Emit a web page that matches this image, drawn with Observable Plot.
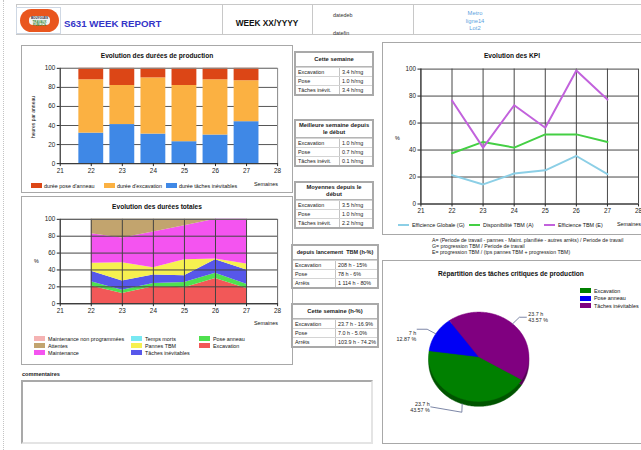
<!DOCTYPE html>
<html><head><meta charset="utf-8">
<script src="https://cdn.jsdelivr.net/npm/d3@7"></script>
<script src="https://cdn.jsdelivr.net/npm/@observablehq/plot@0.6"></script>
<style>
body{margin:0;background:#fff;font-family:"Liberation Sans",Arial,sans-serif;color:#111;}
#page{position:relative;width:641px;height:450px;overflow:hidden;background:#fff;}
.abs{position:absolute;}
.panel{position:absolute;border:1px solid #a8a8a8;box-sizing:border-box;overflow:hidden;background:#fff;}
.ptitle{position:absolute;left:0;right:0;text-align:center;font-weight:bold;font-size:6.6px;line-height:8px;}
.tbl{position:absolute;border:2px solid #a9a9a9;box-sizing:border-box;background:#fff;font-size:5.4px;color:#222;}
.th{display:flex;align-items:center;justify-content:center;text-align:center;font-weight:bold;font-size:5.8px;line-height:6.6px;border-bottom:1px solid #b5b5b5;padding:0 2px;box-sizing:border-box;}
.tr{display:flex;height:9px;line-height:8px;border-top:1px solid #d4d4d4;box-sizing:border-box;}
.c1{border-right:1px solid #c4c4c4;padding-left:2px;box-sizing:border-box;white-space:nowrap;}
.c2{padding-left:2px;white-space:nowrap;}
.lg{position:absolute;font-size:5.4px;line-height:6px;white-space:nowrap;}
.sw{position:absolute;width:11px;height:5px;}
.small{font-size:5.4px;}
svg{overflow:hidden;}
</style>
</head><body>
<div id="page"></div>
<script>
// ---------- DATA ----------
const weeks = [22, 23, 24, 25, 26, 27];
const xTicks = [21, 22, 23, 24, 25, 26, 27, 28];
const yTicks = [0, 20, 40, 60, 80, 100];

// Evolution des durées de production (heures par anneau, stacked)
const prodNames = ["durée tâches inévitables", "durée d'excavation", "durée pose d'anneau"];
const dureeTaches = [32, 41, 31, 23, 30, 44];
const dureeExcavation = [56, 41, 59, 59, 58, 43];
const dureePose = [12, 18, 10, 18, 12, 13];
const prodColors = ["#3f88e6", "#fbb142", "#dc4616"];
const prodLegendOrder = ["durée pose d'anneau", "durée d'excavation", "durée tâches inévitables"];

// Evolution des durées totales (%)
const areaNames = ["Excavation", "Pose anneau", "Tâches inévitables", "Temps morts", "Pannes TBM", "Maintenance", "Attentes", "Maintenance non programmées"];
const excavation = [21, 12, 20, 19, 30, 18];
const poseAnneau = [5, 4, 4, 6, 6, 5];
const tachesInevitables = [12.5, 11, 10, 8, 16, 17];
const tempsMorts = [0, 0, 0, 0, 0, 0];
const pannesTBM = [9.5, 21.5, 8.5, 19, 1, 7];
const maintenance = [35, 29.5, 42.5, 40.5, 47, 53];
const attentes = [17, 22, 15, 7.5, 0, 0];
const maintenanceNonProg = [0, 0, 0, 0, 0, 0];
const areaColors = ["#f25858", "#4fe04f", "#5757ea", "#78e8f2", "#f6f050", "#f454f0", "#c2a46e", "#f5b3b3"];
const areaLegendRows = [
  ["Maintenance non programmées", "Temps morts", "Pose anneau"],
  ["Attentes", "Pannes TBM", "Excavation"],
  ["Maintenance", "Tâches inévitables"]
];

// Evolution des KPI (%)
const kpiNames = ["Efficience Globale (G)", "Disponibilité TBM (A)", "Efficience TBM (E)"];
const efficienceGlobale = [21.4, 14.5, 22.6, 25, 35.6, 22.1];
const disponibiliteTBM = [37.6, 46, 41.8, 51.6, 51.6, 46];
const efficienceTBM = [76.7, 41.8, 73.2, 56.5, 99, 77.4];
const kpiColors = ["#8ccfe6", "#44cf44", "#c262dc"];

// Répartition des tâches critiques de production
const pieNames = ["Excavation", "Pose anneau", "Tâches inévitables"];
const pieHours = [23.7, 7, 23.7];
const piePct = ["43.57 %", "12.87 %", "43.57 %"];
const pieColors = ["#008000", "#0000f5", "#800080"];
const pieSideColors = ["#005400", "#0000a0", "#560056"];

// Tables
const rowsProd = ["Excavation", "Pose", "Tâches inévit."];
const cetteSemaine = ["3.4 h/rng", "1.0 h/rng", "3.4 h/rng"];
const meilleureSemaine = ["1.0 h/rng", "0.7 h/rng", "0.1 h/rng"];
const moyennes = ["3.5 h/rng", "1.0 h/rng", "2.2 h/rng"];
const rowsTBM = ["Excavation", "Pose", "Arrêts"];
const depuisLancement = ["208 h - 15%", "78 h - 6%", "1 114 h - 80%"];
const cetteSemaineH = ["23.7 h - 16.9%", "7.0 h - 5.0%", "103.9 h - 74.2%"];

const formulas = [
  "A= (Periode de travail - pannes - Maint. planifiée - autres arrêts) / Periode de travail",
  "G= progression TBM / Periode de travail",
  "E= progression TBM / (tps pannes TBM + progression TBM)"
];

// ---------- HELPERS ----------
const page = document.getElementById("page");
const FONT = "'Liberation Sans', Arial, sans-serif";
function el(html, parent = page) {
  const t = document.createElement("template");
  t.innerHTML = html.trim();
  const n = t.content.firstChild;
  parent.appendChild(n);
  return n;
}
function panel(left, top, width, height) {
  return el(`<div class="panel" style="left:${left}px;top:${top}px;width:${width}px;height:${height}px"></div>`);
}
function makeTable(title, labels, values, left, top, width, split, headH) {
  el(`<div class="tbl" style="left:${left}px;top:${top}px;width:${width}px">
    <div class="th" style="height:${headH}px">${title}</div>
    ${labels.map((l, i) => `<div class="tr"><div class="c1" style="width:${split}px">${l}</div><div class="c2">${values[i]}</div></div>`).join("")}
  </div>`);
}
const baseStyle = {background: "transparent", fontSize: "6.4px", fontFamily: FONT, color: "#222", overflow: "visible"};

// ---------- PAGE FRAME / HEADER ----------
el(`<div class="abs" style="left:3px;top:0;height:450px;border-left:1px dotted #c4c4c4"></div>`);
el(`<div class="abs" style="left:16px;top:4px;width:626px;height:31px;border:1px solid #c8c8c8;box-sizing:border-box"></div>`);
[222, 312, 413].forEach(x => el(`<div class="abs" style="left:${x}px;top:4px;height:31px;border-left:1px solid #c8c8c8"></div>`));
// logo
el(`<div class="abs" style="left:16px;top:7px;width:45px;height:27px;border:1px solid #cfd8e4;box-sizing:border-box"></div>`);
el(`<div class="abs" style="left:20px;top:9px;width:39px;height:23px;border-radius:12px;background:#e9561e"></div>`);
el(`<div class="abs" style="left:29px;top:16px;width:21px;height:9px;border-radius:4px;background:#f3f3f3"></div>`);
el(`<div class="abs" style="left:30px;top:17px;width:19px;font-size:3px;line-height:3.5px;font-weight:bold;text-align:center;color:#223">BOUYGUES<br><span style="color:#3a8a3a">TRAVAUX PUBLICS</span></div>`);
el(`<div class="abs" style="left:64px;top:18px;font-size:9.7px;font-weight:bold;color:#3535c8;white-space:nowrap">S631 WEEK REPORT</div>`);
el(`<div class="abs" style="left:222px;width:90px;top:18px;font-size:8.3px;font-weight:bold;text-align:center;color:#111;white-space:nowrap">WEEK XX/YYYY</div>`);
el(`<div class="abs small" style="left:333px;top:12px;color:#333">datedeb</div>`);
el(`<div class="abs small" style="left:333px;top:30px;color:#333">datefin</div>`);
el(`<div class="abs" style="left:413px;width:124px;top:10px;font-size:5.8px;line-height:7.5px;text-align:center;color:#5c9fe0">Metro<br>ligne14<br>Lot2</div>`);

// ---------- CHART 1 : production durations ----------
{
  const p = panel(21, 45, 272, 148);
  const prodValues = [dureeTaches, dureeExcavation, dureePose];
  const rows = [];
  weeks.forEach((w, i) => {
    let acc = 0;
    prodValues.forEach((vals, k) => {
      rows.push({week: w, series: prodNames[k], y1: acc, y2: acc + vals[i]});
      acc += vals[i];
    });
  });
  const chart = Plot.plot({
    width: 272, height: 148, marginLeft: 38, marginRight: 15, marginTop: 22, marginBottom: 30,
    style: baseStyle,
    x: {domain: [21, 28]},
    y: {domain: [0, 100]},
    color: {domain: prodNames, range: prodColors},
    marks: [
      Plot.gridY(yTicks, {stroke: "#555", strokeOpacity: 1}),
      Plot.rect(rows, {x1: d => d.week - 0.4, x2: d => d.week + 0.4, y1: "y1", y2: "y2", fill: "series"}),
      Plot.frame({stroke: "#888"}),
      Plot.ruleX([21], {stroke: "#333"}),
      Plot.ruleY([0], {stroke: "#333"}),
      Plot.axisX(xTicks, {tickSize: 3, tickPadding: 1.5, label: null, tickFormat: d => String(d)}),
      Plot.axisY(yTicks, {tickSize: 3, tickPadding: 2, label: null})
    ]
  });
  chart.style.position = "absolute"; chart.style.left = "0px"; chart.style.top = "0px";
  p.appendChild(chart);
  el(`<div class="ptitle" style="top:6px">Evolution des durées de production</div>`, p);
  el(`<div class="abs" style="left:11px;top:71px;transform:translate(-50%,-50%) rotate(-90deg);font-size:5px;white-space:nowrap">heures par anneau</div>`, p);
  el(`<div class="lg" style="left:232px;top:135px">Semaines</div>`, p);
  const lx = [9, 82, 144];
  prodLegendOrder.forEach((n, i) => {
    const c = prodColors[prodNames.indexOf(n)];
    el(`<div class="sw" style="left:${lx[i]}px;top:137px;background:${c}"></div>`, p);
    el(`<div class="lg" style="left:${lx[i] + 13}px;top:136.5px">${n}</div>`, p);
  });
}

// ---------- CHART 2 : total durations (stacked areas) ----------
{
  const p = panel(21, 196, 272, 169);
  const areaValues = [excavation, poseAnneau, tachesInevitables, tempsMorts, pannesTBM, maintenance, attentes, maintenanceNonProg];
  const rows = [];
  areaNames.forEach((n, k) => weeks.forEach((w, i) => rows.push({week: w, series: n, value: areaValues[k][i]})));
  const chart = Plot.plot({
    width: 272, height: 120, marginLeft: 38, marginRight: 15, marginTop: 22, marginBottom: 13,
    style: baseStyle,
    x: {domain: [21, 28]},
    y: {domain: [0, 100]},
    color: {domain: areaNames, range: areaColors},
    marks: [
      Plot.areaY(rows, {x: "week", y: "value", fill: "series", order: areaNames, curve: "linear"}),
      Plot.gridY(yTicks, {stroke: "#444", strokeOpacity: 1}),
      Plot.gridX(weeks, {stroke: "#444", strokeOpacity: 1}),
      Plot.frame({stroke: "#666"}),
      Plot.ruleX([21], {stroke: "#333"}),
      Plot.ruleY([0], {stroke: "#333"}),
      Plot.axisX(xTicks, {tickSize: 3, tickPadding: 1.5, label: null, tickFormat: d => String(d)}),
      Plot.axisY(yTicks, {tickSize: 3, tickPadding: 2, label: null})
    ]
  });
  chart.style.position = "absolute"; chart.style.left = "0px"; chart.style.top = "0px";
  p.appendChild(chart);
  el(`<div class="ptitle" style="top:6px">Evolution des durées totales</div>`, p);
  el(`<div class="lg" style="left:12px;top:61px">%</div>`, p);
  el(`<div class="lg" style="left:232px;top:123px">Semaines</div>`, p);
  const colX = [12, 109, 177];
  areaLegendRows.forEach((row, r) => row.forEach((n, c) => {
    const col = areaColors[areaNames.indexOf(n)];
    el(`<div class="sw" style="left:${colX[c]}px;top:${139 + r * 7}px;height:5px;background:${col}"></div>`, p);
    el(`<div class="lg" style="left:${colX[c] + 14}px;top:${138.5 + r * 7}px">${n}</div>`, p);
  }));
}

// ---------- MIDDLE TABLES ----------
makeTable("Cette semaine", rowsProd, cetteSemaine, 294, 51, 80, 44, 14);
makeTable("Meilleure semaine depuis le début", rowsProd, meilleureSemaine, 294, 119, 80, 44, 17);
makeTable("Moyennes depuis le début", rowsProd, moyennes, 294, 181, 80, 44, 17);
makeTable("<span style='white-space:nowrap;font-size:5.5px'>depuis lancement&nbsp; TBM (h-%)</span>", rowsTBM, depuisLancement, 291, 244, 88, 43, 14);
makeTable("Cette semaine (h-%)", rowsTBM, cetteSemaineH, 291, 303, 88, 43, 14);

// ---------- KPI CHART ----------
{
  const p = panel(382, 42, 260, 193);
  const kpiValues = [efficienceGlobale, disponibiliteTBM, efficienceTBM];
  const rows = [];
  kpiNames.forEach((n, k) => weeks.forEach((w, i) => rows.push({week: w, series: n, value: kpiValues[k][i]})));
  const chart = Plot.plot({
    width: 262, height: 176, marginLeft: 38, marginRight: 3, marginTop: 26, marginBottom: 13,
    style: baseStyle,
    x: {domain: [21, 28]},
    y: {domain: [0, 100]},
    color: {domain: kpiNames, range: kpiColors},
    marks: [
      Plot.gridY(yTicks, {stroke: "#444", strokeOpacity: 1}),
      Plot.gridX(xTicks, {stroke: "#444", strokeOpacity: 1}),
      Plot.ruleX([21], {stroke: "#333"}),
      Plot.ruleY([0], {stroke: "#333"}),
      Plot.lineY(rows, {x: "week", y: "value", stroke: "series", strokeWidth: 2}),
      Plot.axisX(xTicks, {tickSize: 3, tickPadding: 1.5, label: null, tickFormat: d => String(d)}),
      Plot.axisY(yTicks, {tickSize: 3, tickPadding: 2, label: null})
    ]
  });
  chart.style.position = "absolute"; chart.style.left = "0px"; chart.style.top = "0px";
  p.appendChild(chart);
  el(`<div class="ptitle" style="top:9px">Evolution des KPI</div>`, p);
  el(`<div class="lg" style="left:12px;top:92px">%</div>`, p);
  const lx = [15, 86, 161];
  kpiNames.forEach((n, i) => {
    el(`<div class="abs" style="left:${lx[i]}px;top:181px;width:11px;height:2px;background:${kpiColors[i]}"></div>`, p);
    el(`<div class="lg" style="left:${lx[i] + 14}px;top:179px">${n}</div>`, p);
  });
  el(`<div class="lg" style="left:234px;top:178px">Semaines</div>`, p);
}

// ---------- FORMULAS ----------
el(`<div class="abs" style="left:432px;top:237px;font-size:5.2px;line-height:6px;white-space:nowrap;color:#222">${formulas.join("<br>")}</div>`);

// ---------- PIE ----------
{
  const p = panel(382, 260, 260, 184);
  const a0 = 120.9 * Math.PI / 180;
  const arcs = d3.pie().sort(null).startAngle(a0).endAngle(a0 + 2 * Math.PI)(pieHours);
  function slicePts(arc) {
    const pts = [{x: 0, y: 0}];
    const n = Math.max(4, Math.ceil((arc.endAngle - arc.startAngle) / 0.02));
    for (let i = 0; i <= n; i++) {
      const a = arc.startAngle + (arc.endAngle - arc.startAngle) * i / n;
      pts.push({x: Math.sin(a), y: -Math.cos(a)});
    }
    pts.push({x: 0, y: 0});
    return pts;
  }
  const marks = [];
  arcs.forEach((arc, i) => marks.push(Plot.line(slicePts(arc), {x: "x", y: "y", dy: 5, fill: pieSideColors[i], stroke: pieSideColors[i], strokeWidth: 0.5})));
  arcs.forEach((arc, i) => marks.push(Plot.line(slicePts(arc), {x: "x", y: "y", fill: pieColors[i], stroke: pieColors[i], strokeWidth: 0.5})));
  const leaders = [], labels = [];
  arcs.forEach((arc, i) => {
    const m = (arc.startAngle + arc.endAngle) / 2;
    const sx = Math.sin(m), sy = -Math.cos(m);
    const bottom = sy > 0.5;
    const extra = bottom ? 0.11 : 0;
    const right = sx >= 0;
    const e = {x: sx, y: sy + extra};
    const b = bottom ? {x: sx * 1.02, y: sy * 1.2 + extra} : {x: sx * 1.2, y: sy * 1.2};
    const c = {x: b.x + (right ? 0.14 : (bottom ? -0.62 : -0.2)), y: b.y - (bottom ? 0.12 : 0)};
    [e, b, c].forEach(pt => leaders.push({...pt, k: i}));
    labels.push({x: c.x, y: c.y, right, anchor: (!right && !bottom) ? "top" : "middle", text: `${pieHours[i]} h\n${piePct[i]}`});
  });
  marks.push(Plot.line(leaders, {x: "x", y: "y", z: "k", stroke: "#5b6890", strokeWidth: 0.8}));
  marks.push(Plot.text(labels.filter(d => d.right), {x: "x", y: "y", text: "text", textAnchor: "start", dx: 2, lineHeight: 1.15, fontSize: 5.4, fill: "#222"}));
  marks.push(Plot.text(labels.filter(d => !d.right && d.anchor === "middle"), {x: "x", y: "y", text: "text", textAnchor: "end", dx: -1, lineHeight: 1.15, fontSize: 5.4, fill: "#222"}));
  marks.push(Plot.text(labels.filter(d => !d.right && d.anchor === "top"), {x: "x", y: "y", text: "text", textAnchor: "end", lineAnchor: "top", dx: -1, dy: 1, lineHeight: 1.15, fontSize: 5.4, fill: "#222"}));
  const chart = Plot.plot({
    width: 260, height: 184, margin: 0,
    style: baseStyle,
    x: {domain: [-1, 1], range: [45.5, 146.5], axis: null},
    y: {domain: [-1, 1], range: [51, 141], axis: null},
    marks
  });
  chart.style.position = "absolute"; chart.style.left = "0px"; chart.style.top = "0px";
  p.appendChild(chart);
  el(`<div class="ptitle" style="top:9px;left:-2px">Répartition des tâches critiques de production</div>`, p);
  pieNames.forEach((n, i) => {
    el(`<div class="sw" style="left:197px;top:${27 + i * 7.5}px;background:${pieColors[i]}"></div>`, p);
    el(`<div class="lg" style="left:211px;top:${26.5 + i * 7.5}px">${n}</div>`, p);
  });
}

// ---------- COMMENTS ----------
el(`<div class="abs" style="left:22px;top:371px;font-size:5.6px;font-weight:bold;color:#222">commentaires</div>`);
el(`<div class="abs" style="left:21px;top:380px;width:352px;height:64px;box-sizing:border-box;border:2px solid #e4e4e4;border-top-color:#a9a9a9;border-left-color:#a9a9a9;background:#fff"></div>`);
</script>
</body></html>
